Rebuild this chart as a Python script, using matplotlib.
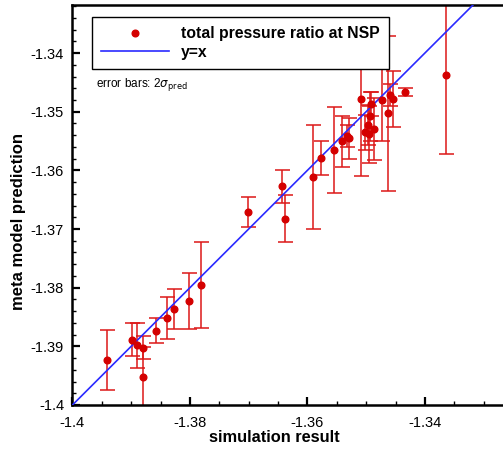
import numpy as np
import matplotlib.pyplot as plt
from matplotlib.ticker import MultipleLocator

plt.rcParams['font.family'] = ['Liberation Sans', 'DejaVu Sans']

# simulation result (x), meta model prediction (y), 2*sigma_pred (error bar half-length)
sim = [-1.39409, -1.38984, -1.38909, -1.38797, -1.38807, -1.38569, -1.38394, -1.38263,
       -1.38015, -1.37805, -1.37006, -1.36435, -1.36389, -1.35901, -1.35772, -1.35540,
       -1.35412, -1.35324, -1.35285, -1.35093, -1.34911, -1.34933, -1.34974, -1.35025,
       -1.34957, -1.34873, -1.34736, -1.34634, -1.34588, -1.34542, -1.34335, -1.33648]
pred = [-1.39232, -1.38886, -1.38981, -1.39022, -1.39517, -1.38737, -1.38515, -1.38362,
        -1.38225, -1.37952, -1.36712, -1.36275, -1.36826, -1.36109, -1.35797, -1.35660,
        -1.35507, -1.35410, -1.35456, -1.34783, -1.34863, -1.35077, -1.35222, -1.35350,
        -1.35384, -1.35295, -1.34800, -1.35029, -1.34710, -1.34783, -1.34667, -1.34374]
err = [0.00507, 0.00285, 0.00387, 0.00200, 0.00512, 0.00213, 0.00363, 0.00341,
       0.00474, 0.00734, 0.00256, 0.00285, 0.00398, 0.00887, 0.00290, 0.00734,
       0.00439, 0.00188, 0.00350, 0.01314, 0.00205, 0.00420, 0.00341, 0.00300,
       0.00488, 0.00529, 0.00700, 0.01328, 0.00188, 0.00478, 0.00068, 0.01355]

xlim = (-1.4, -1.3267)
ylim = (-1.4, -1.3318)

fig = plt.figure(figsize=(5.03, 4.5), dpi=100)
ax = fig.add_axes([0.144, 0.1, 0.856, 0.889])

ax.errorbar(sim, pred, yerr=err, fmt='none', ecolor='#dd1818', elinewidth=1.1,
            capsize=5.4, capthick=1.1, zorder=2)
line_x = np.array(xlim)
ax.plot(line_x, line_x, color='#2a2aff', lw=1.2, zorder=3, label='y=x')
ax.plot(sim, pred, 'o', color='#d40000', ms=4.8, zorder=4,
        label='total pressure ratio at NSP')

ax.set_xlim(xlim)
ax.set_ylim(ylim)
ax.xaxis.set_major_locator(MultipleLocator(0.02))
ax.xaxis.set_minor_locator(MultipleLocator(0.005))
ax.yaxis.set_major_locator(MultipleLocator(0.01))
ax.yaxis.set_minor_locator(MultipleLocator(0.002))
ax.xaxis.set_major_formatter(lambda v, p: f'{v:.2f}'.rstrip('0').rstrip('.'))
ax.yaxis.set_major_formatter(lambda v, p: f'{v:.2f}'.rstrip('0').rstrip('.'))
ax.tick_params(which='both', direction='in', top=False, right=False, labelsize=10.5)
ax.tick_params(which='major', length=5.5, width=1.6)
ax.tick_params(axis='x', which='major', pad=8)
ax.tick_params(axis='y', which='major', pad=6)
ax.tick_params(which='minor', length=3, width=1)
for s in ['left', 'bottom', 'top']:
    ax.spines[s].set_linewidth(1.8)
ax.spines['right'].set_visible(False)

ax.set_xlabel('simulation result', fontsize=11.8, fontweight='bold')
ax.set_ylabel('meta model prediction', fontsize=12.0, fontweight='bold')
ax.xaxis.set_label_coords(0.47, -0.063)
ax.yaxis.set_label_coords(-0.108, 0.4575)

h, l = ax.get_legend_handles_labels()
leg = ax.legend(h[::-1], l[::-1], loc='upper left', bbox_to_anchor=(0.045, 0.97),
                borderaxespad=0, fancybox=False, framealpha=1, edgecolor='black',
                handlelength=4.3, handletextpad=0.8, borderpad=0.6, labelspacing=0.22,
                prop={'weight': 'bold', 'size': 11.3})
leg.get_frame().set_linewidth(1.0)
leg.set_zorder(5)

ax.text(0.055, 0.8, r'error bars: 2$\sigma_{\mathrm{pred}}$', transform=ax.transAxes,
        fontsize=8.5, va='center', ha='left')

fig.savefig('out.png', dpi=100)
